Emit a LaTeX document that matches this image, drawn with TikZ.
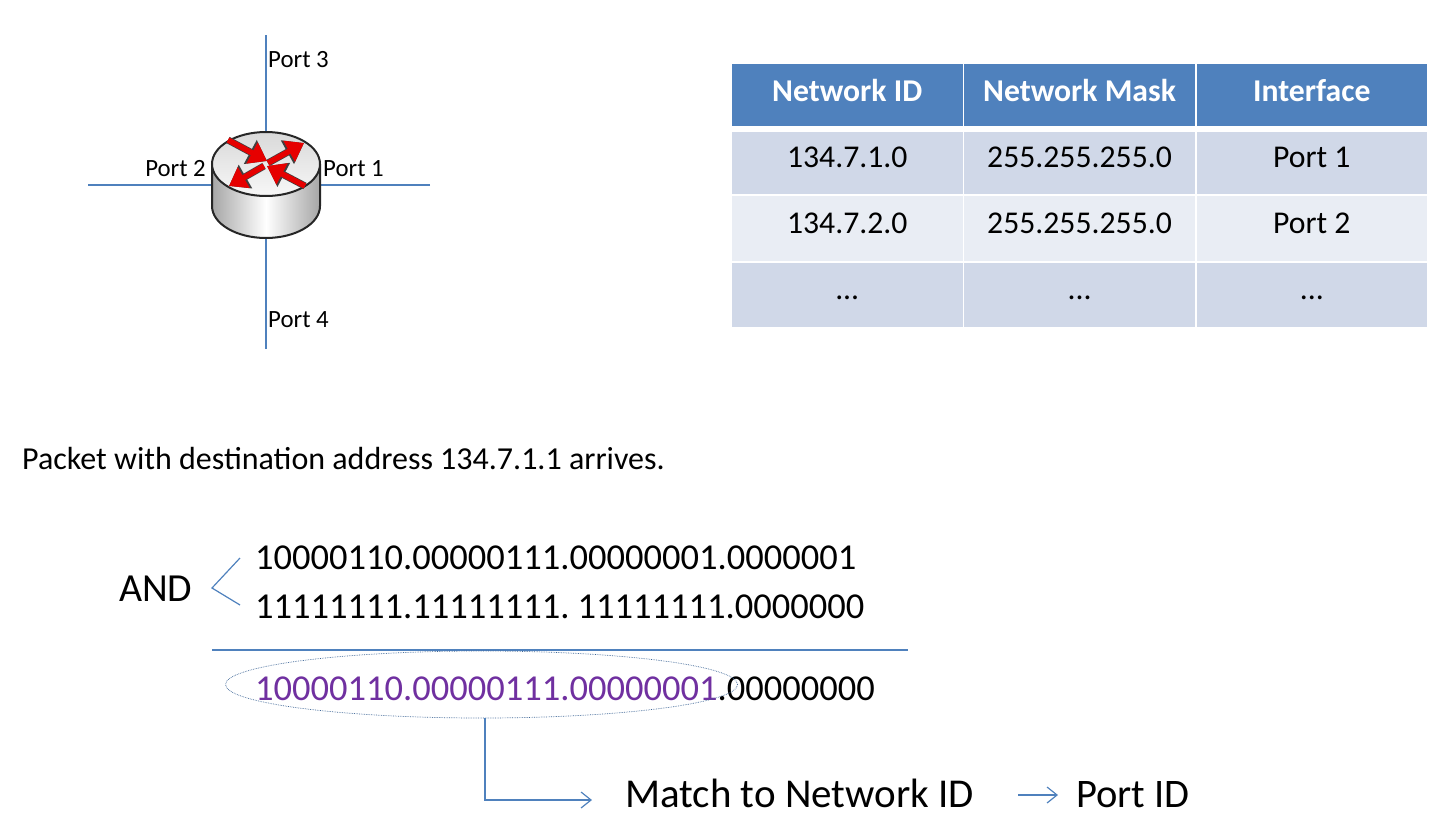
\documentclass[tikz,border=0pt]{standalone}
\usepackage{fontspec}
\setmainfont{Carlito}
\definecolor{linkblue}{HTML}{4F81BD}
\definecolor{rowdark}{HTML}{D0D8E8}
\definecolor{rowlight}{HTML}{E9EDF4}
\definecolor{matchpurple}{HTML}{7030A0}
\definecolor{arrowred}{HTML}{E60000}
\usetikzlibrary{positioning,arrows.meta,shapes.geometric}

\begin{document}
\begin{tikzpicture}[
    x=1pt, y=-1pt,
    wire/.style={draw=linkblue, line width=1.2pt},
    portlabel/.style={inner sep=0pt, font=\fontsize{24.8}{26}\selectfont},
    cell/.style={rectangle, inner sep=0pt, outer sep=0pt, minimum width=230.5pt,
                 align=center, text height=21pt, text depth=12pt,
                 font=\fontsize{31.7}{34}\selectfont},
    headcell/.style={cell, fill=linkblue, minimum height=62pt, text=white,
                     text height=21pt, text depth=9pt,
                     font=\fontsize{31.7}{34}\selectfont\bfseries},
    darkcell/.style={cell, fill=rowdark},
    lightcell/.style={cell, fill=rowlight},
    bits/.style={inner sep=0pt, anchor=west, font=\fontsize{36.5}{38}\selectfont},
    bigtext/.style={inner sep=0pt, anchor=west, font=\fontsize{40.5}{42}\selectfont},
    openarrow/.style={wire, -{Straight Barb[length=10pt,width=16pt]}},
    redarrow/.style={draw=arrowred, line width=5.5pt, -{Triangle[length=17pt,width=23pt]},
                     preaction={draw=black!75, line width=7pt, -{Triangle[length=19pt,width=26pt]}}},
  ]
  \useasboundingbox (0,0) rectangle (1444,830);

  % router
  \node[minimum width=108pt, minimum height=106pt, inner sep=0pt, outer sep=0pt] (router) at (266,185) {};
  \coordinate (p1) at (430,185);
  \coordinate (p2) at (88,185);
  \coordinate (p3) at (266,35);
  \coordinate (p4) at (266,349);
  \draw[wire] (p1) -- (router.east);
  \draw[wire] (p2) -- (router.west);
  \draw[wire] (p3) -- (router.north);
  \draw[wire] (p4) -- (router.south);
  \shade[left color=black!35, right color=black!35, middle color=white]
    (212,164) -- (212,206) arc[start angle=180, end angle=360, x radius=54pt, y radius=32pt] -- (320,164) -- cycle;
  \draw[line width=2pt, black!85] (212,164) -- (212,206) arc[start angle=180, end angle=360, x radius=54pt, y radius=32pt] -- (320,164);
  \draw[line width=2pt, black!85, top color=black!15, bottom color=black!3] (266,164) ellipse[x radius=54pt, y radius=32pt];
  \draw[redarrow] (228,140) -- (267,161);
  \draw[redarrow] (268,163) -- (304,143);
  \draw[redarrow] (264,166) -- (229,186);
  \draw[redarrow] (305,186) -- (267,166);

  \node[portlabel, anchor=west] (l1) at (323,169) {Port 1};
  \node[portlabel, anchor=east] (l2) at (206,169) {Port 2};
  \node[portlabel, anchor=west] (l3) at (268,60) {Port 3};
  \node[portlabel, anchor=west] (l4) at (268,320) {Port 4};

  % table
  \node[headcell, anchor=north west] (h1) at (732,64) {Network ID};
  \node[headcell, right=1.8pt of h1] (h2) {Network Mask};
  \node[headcell, right=1.8pt of h2] (h3) {Interface};
  \node[darkcell, minimum height=62pt, below=6pt of h1] (a1) {134.7.1.0};
  \node[darkcell, minimum height=62pt, right=1.8pt of a1] (a2) {255.255.255.0};
  \node[darkcell, minimum height=62pt, right=1.8pt of a2] (a3) {Port 1};
  \node[lightcell, minimum height=65pt, below=2pt of a1] (b1) {134.7.2.0};
  \node[lightcell, minimum height=65pt, right=1.8pt of b1] (b2) {255.255.255.0};
  \node[lightcell, minimum height=65pt, right=1.8pt of b2] (b3) {Port 2};
  \node[darkcell, minimum height=64pt, below=2pt of b1] (c1) {...};
  \node[darkcell, minimum height=64pt, right=1.8pt of c1] (c2) {...};
  \node[darkcell, minimum height=64pt, right=1.8pt of c2] (c3) {...};

  % address calculation
  \node[inner sep=0pt, anchor=west, font=\fontsize{32}{34}\selectfont] (packet) at (22,459) {Packet with destination address 134.7.1.1 arrives.};
  \node[bits] (addr) at (255,558) {10000110.00000111.00000001.0000001};
  \node[bits] (mask) at (255,607) {11111111.11111111.\hspace{8pt}11111111.0000000};
  \node[bits] (res) at (255,689) {\textcolor{matchpurple}{10000110.00000111.00000001}.00000000};
  \node[inner sep=0pt, anchor=west, font=\fontsize{39.8}{42}\selectfont] (and) at (119,589) {AND};

  \coordinate (tip) at (212,588);
  \coordinate (br1) at (240,558);
  \coordinate (br2) at (240,605);
  \draw[wire] (br1) -- (tip) -- (br2);
  \coordinate (r1) at (212,650);
  \coordinate (r2) at (908,650);
  \draw[wire] (r1) -- (r2);

  \node[ellipse, draw=linkblue!80!black, densely dotted, line width=0.7pt, inner sep=0pt,
        minimum width=512pt, minimum height=67pt] (net) at (481.5,684.5) {};

  \node[bigtext, font=\fontsize{41}{43}\selectfont] (match) at (625,793) {Match to Network ID};
  \node[bigtext] (port) at (1076,795) {Port ID};
  \coordinate (bend) at (485,800);
  \coordinate (m1) at (592,800);
  \coordinate (s2) at (1018,795);
  \coordinate (m2) at (1058,795);
  \draw[openarrow] (net.south -| bend) -- (bend) -- (m1);
  \draw[openarrow] (s2) -- (m2);
\end{tikzpicture}
\end{document}
